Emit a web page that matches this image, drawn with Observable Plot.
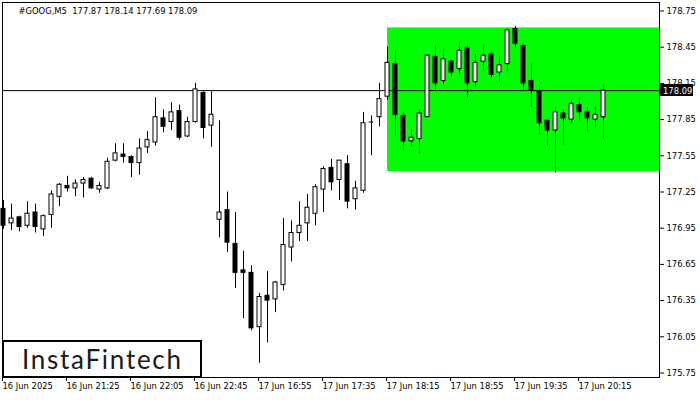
<!DOCTYPE html>
<html><head><meta charset="utf-8">
<script src="https://cdn.jsdelivr.net/npm/d3@7"></script>
<script src="https://cdn.jsdelivr.net/npm/@observablehq/plot@0.6"></script>
<style>
body{margin:0;background:#fff;}
#chart{position:relative;width:700px;height:400px;overflow:hidden;}
</style></head><body><div id="chart"></div>
<script>
const symbolLabel = "#GOOG,M5";
const open  = [177.11,176.99,177.04,176.97,177.08,176.94,177.06,177.21,177.30,177.28,177.32,177.36,177.27,177.28,177.51,177.56,177.54,177.49,177.62,177.66,177.86,177.83,177.92,177.71,177.83,178.07,177.80,177.02,177.10,176.82,176.60,176.58,176.13,176.39,176.36,176.48,176.79,176.91,176.99,177.07,177.27,177.45,177.35,177.48,177.19,177.26,177.83,177.87,178.04,178.31,177.88,177.67,177.69,177.87,178.37,178.17,178.33,178.27,178.44,178.16,178.33,178.39,178.24,178.31,178.60,178.46,178.17,178.08,177.84,177.76,177.90,177.85,177.97,177.91,177.85,177.87];
const high  = [177.18,177.15,177.05,177.17,177.15,177.06,177.26,177.32,177.38,177.35,177.37,177.37,177.33,177.53,177.65,177.65,177.55,177.69,177.75,178.03,177.93,177.99,177.97,177.87,178.15,178.08,178.08,177.84,177.25,177.08,176.76,176.64,176.41,176.59,176.51,177.03,177.01,177.17,177.23,177.31,177.46,177.52,177.51,177.55,177.34,177.91,177.88,178.15,178.45,178.42,177.91,177.77,177.93,178.38,178.46,178.44,178.34,178.49,178.46,178.39,178.47,178.42,178.37,178.60,178.62,178.47,178.31,178.12,177.84,177.95,177.93,178.01,178.03,177.95,177.95,178.14];
const low   = [176.94,176.93,176.92,176.95,176.91,176.88,176.95,177.13,177.25,177.21,177.20,177.27,177.24,177.27,177.50,177.49,177.37,177.39,177.57,177.63,177.74,177.76,177.68,177.70,177.82,177.69,177.62,176.87,176.75,176.45,176.20,176.10,175.83,176.00,176.25,176.43,176.67,176.84,176.84,176.97,177.08,177.26,177.18,177.11,177.10,177.24,177.55,177.79,178.01,177.71,177.59,177.62,177.57,177.87,178.10,178.14,178.20,178.21,178.03,178.12,178.25,178.20,178.16,178.25,178.44,178.08,177.95,177.72,177.63,177.41,177.64,177.81,177.84,177.75,177.78,177.69];
const close = [176.97,177.03,176.96,177.07,176.96,177.05,177.23,177.31,177.28,177.32,177.35,177.28,177.30,177.50,177.57,177.54,177.49,177.61,177.68,177.87,177.79,177.91,177.70,177.83,178.10,177.78,177.89,177.08,176.83,176.58,176.58,176.12,176.38,176.35,176.50,176.81,176.91,176.97,177.12,177.29,177.44,177.33,177.51,177.17,177.28,177.82,177.83,178.02,178.32,177.89,177.67,177.70,177.90,178.38,178.15,178.35,178.24,178.42,178.15,178.32,178.38,178.22,178.30,178.59,178.48,178.15,178.09,177.82,177.76,177.91,177.86,177.98,177.91,177.86,177.89,178.09];
const timeLabels = ["16 Jun 2025","16 Jun 21:25","16 Jun 22:05","16 Jun 22:45","17 Jun 16:55","17 Jun 17:35","17 Jun 18:15","17 Jun 18:55","17 Jun 19:35","17 Jun 20:15"];
const barsPerLabel = 8;
const priceTicks = [178.75,178.45,178.15,177.85,177.55,177.25,176.95,176.65,176.35,176.05,175.75];
const patternStartBar = 48;
const patternTop = 178.61;
const patternBottom = 177.42;
const brand = "InstaFintech";

const bars = open.map((o, i) => ({i, o, h: high[i], l: low[i], c: close[i]}));
const last = bars[bars.length - 1];

const W = 700, H = 400;
const mL = 2, mR = 41, mT = 2, mB = 23;
const pxPerUnit = (373 - 11) / (178.75 - 175.75);
const yMax = 178.75 + (10.5 - mT) / pxPerUnit;
const yMin = 175.75 - ((H - mB) - 372.5) / pxPerUnit;
const xMin = (mL - 3) / 8, xMax = (W - mR - 3) / 8;

const font = "'DejaVu Sans', Verdana, sans-serif";
const fs = 8.4;

const plot = Plot.plot({
  width: W, height: H,
  marginLeft: mL, marginRight: mR, marginTop: mT, marginBottom: mB,
  x: {domain: [xMin, xMax], axis: null},
  y: {domain: [yMin, yMax], axis: null},
  style: {fontFamily: font, fontSize: fs + "px", color: "#000", background: "#fff", overflow: "visible"},
  marks: [
    Plot.rect([{x1: patternStartBar, x2: xMax, y1: patternBottom, y2: patternTop}], {x1: "x1", x2: "x2", y1: "y1", y2: "y2", fill: "#00ff00"}),
    Plot.ruleY([last.c], {stroke: "#000", strokeWidth: 1}),
    Plot.ruleX(bars, {x: "i", y1: "l", y2: "h", stroke: "#000", strokeWidth: 1}),
    Plot.rect(bars.filter(d => d.o !== d.c), {x1: d => d.i - 0.25, x2: d => d.i + 0.25, y1: "o", y2: "c", fill: d => d.c > d.o ? "#fff" : "#000", stroke: "#000", strokeWidth: 1}),
    Plot.ruleY(bars.filter(d => d.o === d.c), {y: "o", x1: d => d.i - 0.3, x2: d => d.i + 0.3, stroke: "#000"}),
    Plot.frame({stroke: "#000", strokeWidth: 1}),
    Plot.axisY(priceTicks, {anchor: "right", tickSize: 4, tickPadding: 3, tickFormat: d => d.toFixed(2), fontSize: fs}),
    Plot.axisX(d3.range(0, timeLabels.length * barsPerLabel, barsPerLabel), {anchor: "bottom", tickSize: 4, tickPadding: 2, textAnchor: "start", tickFormat: d => timeLabels[d / barsPerLabel], fontSize: fs, dx: -1}),
    Plot.text([`${symbolLabel}  ${last.o.toFixed(2)} ${last.h.toFixed(2)} ${last.l.toFixed(2)} ${last.c.toFixed(2)}`], {frameAnchor: "top-left", dx: 16, dy: 6, text: d => d, fontSize: fs, textAnchor: "start", fill: "#000"})
  ]
});

const svg = d3.select(plot);
const ys = plot.scale("y");
const yc = ys.apply(last.c);
const tag = svg.append("g").attr("text-anchor", "start");
tag.append("rect").attr("x", W - mR + 1).attr("y", Math.round(yc) - 6).attr("width", 33).attr("height", 12).attr("fill", "#000");
tag.append("text").attr("x", W - mR + 4).attr("y", Math.round(yc) + 3.5).attr("fill", "#fff").attr("font-family", font).attr("font-size", fs + "px").text(last.c.toFixed(2));

const logo = svg.append("g").attr("text-anchor", "start");
logo.append("rect").attr("x", 3).attr("y", 341).attr("width", 198).attr("height", 36).attr("fill", "#fff").attr("stroke", "#000").attr("stroke-width", 2);
logo.append("text").attr("x", 22).attr("y", 369).attr("fill", "#1a1a1a").attr("font-family", "Lato, 'Open Sans', sans-serif").attr("font-size", "26px").attr("textLength", 159).attr("lengthAdjust", "spacing").text(brand);

document.getElementById("chart").appendChild(plot);
</script>
</body></html>
